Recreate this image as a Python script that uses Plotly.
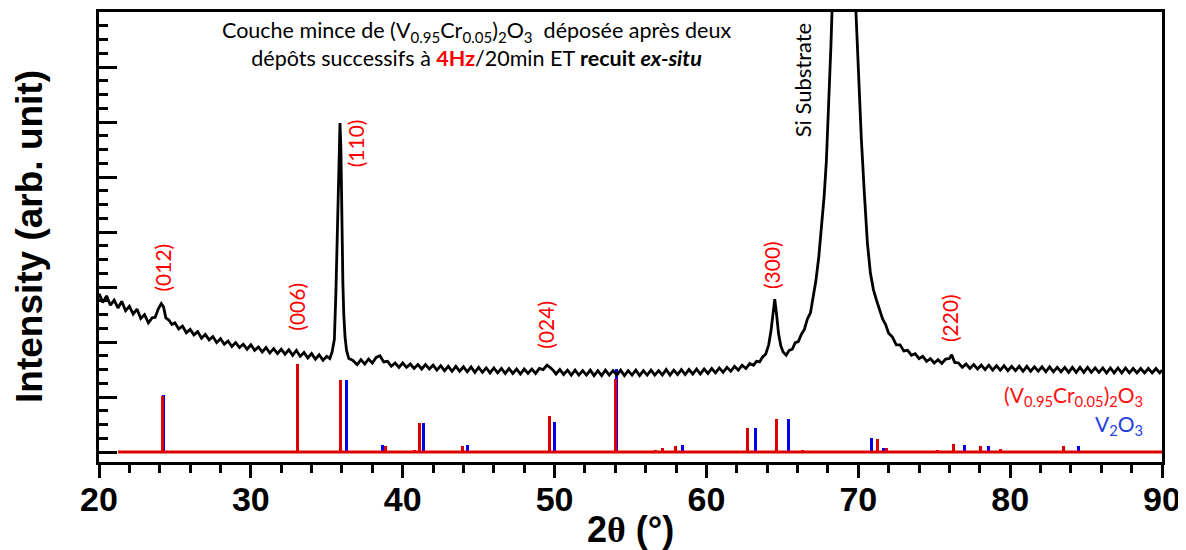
import plotly.graph_objects as go

# ---------------- data ----------------
two_theta = [20.0, 20.25, 20.5, 20.75, 21.0, 21.25, 21.5, 21.75, 22.0, 22.25, 22.5, 22.75, 23.0, 23.25, 23.5,
             23.7, 23.9, 24.1, 24.25, 24.4, 24.6, 24.8, 25.0, 25.25, 25.5, 25.75, 26.0, 26.25, 26.5, 26.75,
             27.0, 27.25, 27.5, 27.75, 28.0, 28.25, 28.5, 28.75, 29.0, 29.25, 29.5, 29.75, 30.0, 30.25, 30.5,
             30.75, 31.0, 31.25, 31.5, 31.75, 32.0, 32.25, 32.5, 32.75, 33.0, 33.25, 33.5, 33.75, 34.0, 34.25,
             34.5, 34.75, 35.0, 35.2, 35.35, 35.5, 35.6, 35.7, 35.8, 35.87, 35.93, 36.0, 36.06, 36.12, 36.2,
             36.3, 36.45, 36.7, 37.0, 37.25, 37.5, 37.75, 38.0, 38.25, 38.5, 38.75, 39.0, 39.25, 39.5, 39.75,
             40.0, 40.25, 40.5, 40.75, 41.0, 41.25, 41.5, 41.75, 42.0, 42.25, 42.5, 42.75, 43.0, 43.25, 43.5,
             43.75, 44.0, 44.25, 44.5, 44.75, 45.0, 45.25, 45.5, 45.75, 46.0, 46.25, 46.5, 46.75, 47.0, 47.25,
             47.5, 47.75, 48.0, 48.25, 48.5, 48.75, 49.0, 49.25, 49.5, 49.7, 49.9, 50.1, 50.35, 50.6, 50.85,
             51.1, 51.35, 51.6, 51.85, 52.1, 52.35, 52.6, 52.85, 53.1, 53.35, 53.6, 53.85, 54.1, 54.35, 54.6,
             54.85, 55.1, 55.35, 55.6, 55.85, 56.1, 56.35, 56.6, 56.85, 57.1, 57.35, 57.6, 57.85, 58.1, 58.35,
             58.6, 58.85, 59.1, 59.35, 59.6, 59.85, 60.1, 60.35, 60.6, 60.85, 61.1, 61.35, 61.6, 61.85, 62.1,
             62.35, 62.6, 62.85, 63.1, 63.3, 63.5, 63.7, 63.9, 64.1, 64.25, 64.38, 64.5, 64.62, 64.75, 64.9,
             65.05, 65.25, 65.45, 65.65, 65.85, 66.05, 66.25, 66.45, 66.65, 66.85, 67.0, 67.2, 67.4, 67.6, 67.75,
             67.9, 68.05, 68.2, 68.35, 68.5, 68.7, 68.9, 69.05, 69.2, 69.4, 69.6, 69.8, 70.0, 70.2, 70.4,
             70.6, 70.8, 71.0, 71.2, 71.4, 71.6, 71.8, 72.0, 72.25, 72.5, 72.75, 73.0, 73.25, 73.5, 73.75,
             74.0, 74.25, 74.5, 74.75, 75.0, 75.25, 75.5, 75.75, 76.0, 76.15, 76.35, 76.6, 76.85, 77.1, 77.35,
             77.6, 77.85, 78.1, 78.35, 78.6, 78.85, 79.1, 79.35, 79.6, 79.85, 80.1, 80.35, 80.6, 80.85, 81.1,
             81.35, 81.6, 81.85, 82.1, 82.35, 82.6, 82.85, 83.1, 83.35, 83.6, 83.85, 84.1, 84.35, 84.6, 84.85,
             85.1, 85.35, 85.6, 85.85, 86.1, 86.35, 86.6, 86.85, 87.1, 87.35, 87.6, 87.85, 88.1, 88.35, 88.6,
             88.85, 89.1, 89.35, 89.6, 89.85, 90.0]
intensity = [2.88, 2.72, 2.84, 2.67, 2.76, 2.62, 2.74, 2.57, 2.65, 2.51, 2.60, 2.43, 2.50, 2.35, 2.44,
             2.45, 2.60, 2.70, 2.64, 2.44, 2.40, 2.32, 2.35, 2.24, 2.29, 2.17, 2.23, 2.13, 2.19, 2.07,
             2.14, 2.04, 2.10, 1.99, 2.06, 1.96, 2.02, 1.92, 1.99, 1.90, 1.96, 1.87, 1.95, 1.85, 1.91,
             1.82, 1.90, 1.80, 1.88, 1.79, 1.87, 1.78, 1.86, 1.76, 1.85, 1.74, 1.81, 1.71, 1.79, 1.69,
             1.77, 1.67, 1.74, 1.70, 1.82, 2.05, 2.90, 4.20, 5.30, 5.98, 5.50, 4.00, 3.07, 2.50, 2.10,
             1.85, 1.70, 1.67, 1.59, 1.68, 1.60, 1.69, 1.62, 1.72, 1.75, 1.64, 1.65, 1.56, 1.62, 1.54,
             1.62, 1.54, 1.60, 1.52, 1.59, 1.51, 1.59, 1.51, 1.58, 1.49, 1.57, 1.48, 1.56, 1.47, 1.56,
             1.47, 1.55, 1.46, 1.55, 1.45, 1.54, 1.45, 1.53, 1.44, 1.53, 1.44, 1.52, 1.43, 1.52, 1.43,
             1.51, 1.42, 1.51, 1.43, 1.51, 1.43, 1.52, 1.50, 1.58, 1.54, 1.49, 1.42, 1.50, 1.41, 1.49,
             1.40, 1.49, 1.40, 1.48, 1.40, 1.49, 1.39, 1.48, 1.39, 1.49, 1.40, 1.48, 1.40, 1.49, 1.39,
             1.48, 1.40, 1.49, 1.39, 1.48, 1.40, 1.49, 1.40, 1.48, 1.40, 1.50, 1.40, 1.49, 1.41, 1.50,
             1.41, 1.50, 1.42, 1.51, 1.42, 1.51, 1.43, 1.52, 1.44, 1.53, 1.45, 1.54, 1.47, 1.56, 1.49,
             1.58, 1.52, 1.61, 1.58, 1.65, 1.64, 1.73, 1.78, 1.95, 2.20, 2.55, 2.78, 2.50, 2.15, 1.93,
             1.82, 1.76, 1.85, 1.87, 1.99, 2.01, 2.14, 2.23, 2.42, 2.53, 2.75, 3.10, 3.55, 4.20, 4.65,
             5.30, 6.20, 7.40, 8.70, 10.0, 11.6, 12.5, 12.8, 12.5, 11.3, 9.8, 8.3, 6.9, 5.7, 4.7,
             3.80, 3.25, 2.95, 2.76, 2.58, 2.42, 2.32, 2.16, 2.09, 1.95, 1.95, 1.84, 1.85, 1.76, 1.79,
             1.70, 1.74, 1.65, 1.70, 1.62, 1.68, 1.61, 1.69, 1.70, 1.77, 1.63, 1.62, 1.54, 1.60, 1.52,
             1.59, 1.51, 1.58, 1.50, 1.58, 1.49, 1.57, 1.49, 1.57, 1.48, 1.56, 1.48, 1.56, 1.47, 1.56,
             1.47, 1.55, 1.47, 1.55, 1.46, 1.55, 1.46, 1.54, 1.46, 1.54, 1.45, 1.54, 1.45, 1.54, 1.45,
             1.54, 1.45, 1.53, 1.45, 1.53, 1.44, 1.53, 1.44, 1.53, 1.44, 1.53, 1.44, 1.52, 1.44, 1.52,
             1.44, 1.52, 1.44, 1.52, 1.44, 1.49]

# reference stick patterns
vcr_pos = [24.20, 33.05, 35.92, 38.87, 40.78, 41.10, 43.96, 49.66, 54.02, 56.65, 57.08, 57.98,
           62.68, 64.62, 66.30, 71.26, 71.83, 75.24, 76.25, 78.07, 79.38, 83.53]
vcr_int = [1.02, 1.60, 1.31, 0.11, 0.04, 0.53, 0.11, 0.65, 1.33, 0.04, 0.07, 0.11,
           0.44, 0.60, 0.04, 0.24, 0.07, 0.04, 0.15, 0.11, 0.05, 0.11]
v2o3_pos = [24.27, 36.30, 38.67, 41.36, 44.28, 49.98, 54.10, 56.85, 58.40, 63.20, 65.38,
            66.69, 70.84, 71.63, 77.01, 78.56, 84.51]
v2o3_int = [1.04, 1.31, 0.13, 0.53, 0.13, 0.55, 1.51, 0.02, 0.13, 0.44, 0.60,
            0.02, 0.25, 0.07, 0.13, 0.11, 0.11]
baseline_x = [21.25, 90.0]
baseline_y = [0.0, 0.0]

# peak labels
hkl_labels = ["(012)", "(006)", "(110)", "(024)", "(300)", "(220)"]
hkl_x = [24.2, 33.0, 36.95, 49.35, 64.25, 76.05]
hkl_y = [3.35, 2.65, 5.62, 2.31, 3.40, 2.44]

RED = "#DD0000"
BLUE = "#0000EE"
TXT = "Lato"

fig = go.Figure()
fig.add_trace(go.Bar(x=v2o3_pos, y=v2o3_int, width=0.2, marker=dict(color=BLUE, line_width=0),
                     showlegend=False))
fig.add_trace(go.Bar(x=vcr_pos, y=vcr_int, width=0.2, marker=dict(color=RED, line_width=0),
                     showlegend=False))
fig.add_trace(go.Scatter(x=baseline_x, y=baseline_y, mode="lines", line=dict(color=RED, width=3),
                         showlegend=False))
fig.add_trace(go.Scatter(x=two_theta, y=intensity, mode="lines", line=dict(color="black", width=2.8),
                         showlegend=False))

ann = []
for t, x, y in zip(hkl_labels, hkl_x, hkl_y):
    ann.append(dict(x=x, y=y, xref="x", yref="y", text=t, textangle=-90, showarrow=False,
                    font=dict(family=TXT, size=21, color="#FF0000")))
ann.append(dict(x=66.3, y=6.76, xref="x", yref="y", text="Si Substrate", textangle=-90, showarrow=False,
                font=dict(family=TXT, size=22, color="black")))
ann.append(dict(x=0.355, y=0.928, xref="paper", yref="paper", yanchor="middle", showarrow=False, align="center",
                text="Couche mince de (V<sub>0.95</sub>Cr<sub>0.05</sub>)<sub>2</sub>O<sub>3</sub>  déposée après deux<br>"
                     "dépôts successifs à <b><span style='color:#FF0000'>4Hz</span></b>/20min ET <b>recuit <i>ex-situ</i></b>",
                font=dict(family=TXT, size=21.5, color="black")))
ann.append(dict(x=88.85, y=1.02, xref="x", yref="y", xanchor="right", showarrow=False,
                text="(V<sub>0.95</sub>Cr<sub>0.05</sub>)<sub>2</sub>O<sub>3</sub>",
                font=dict(family=TXT, size=21, color="#FF1010")))
ann.append(dict(x=88.85, y=0.49, xref="x", yref="y", xanchor="right", showarrow=False,
                text="V<sub>2</sub>O<sub>3</sub>",
                font=dict(family=TXT, size=21, color="#1F3FE0")))
# axis titles
ann.append(dict(x=0, y=0.5, xref="paper", yref="paper", xanchor="center", yanchor="middle",
                xshift=-70, yshift=0, textangle=-90, showarrow=False,
                text="<b>Intensity (arb. unit)</b>",
                font=dict(family="Liberation Sans", size=37, color="black")))
ann.append(dict(x=0.5, y=0, xref="paper", yref="paper", xanchor="center", yanchor="middle",
                yshift=-67, showarrow=False,
                text="<b>2<span style='font-family:Liberation Serif'>θ</span> (°)</b>",
                font=dict(family="Liberation Sans", size=36, color="black")))

# page body keeps an 8px margin: figure is sized so that the visible window is 1186x550
fig.update_layout(
    width=1178, height=542,
    margin=dict(l=91, r=24, t=4, b=88, autoexpand=False),
    paper_bgcolor="white", plot_bgcolor="white",
    barmode="overlay", bargap=0,
    annotations=ann,
    showlegend=False,
)
fig.update_xaxes(range=[20, 90], showline=True, linewidth=3, linecolor="black", mirror=True,
                 automargin=False,
                 ticks="outside", ticklen=13, tickwidth=3, tickcolor="black", dtick=10, tick0=20,
                 ticklabelstandoff=-8, ticklabeloverflow="allow",
                 tickfont=dict(family="Liberation Sans", size=34, color="black", weight="bold"),
                 minor=dict(dtick=2, ticks="outside", ticklen=8, tickwidth=3, tickcolor="black"),
                 showgrid=False, zeroline=False)
fig.update_yaxes(range=[-0.18, 8.0], showline=True, linewidth=3, linecolor="black", mirror=True,
                 automargin=False,
                 ticks="inside", ticklen=18, tickwidth=3, tickcolor="black", dtick=1, tick0=0,
                 showticklabels=False,
                 minor=dict(dtick=0.25, ticks="inside", ticklen=9, tickwidth=3, tickcolor="black"),
                 showgrid=False, zeroline=False)

fig.write_html("out.html")
